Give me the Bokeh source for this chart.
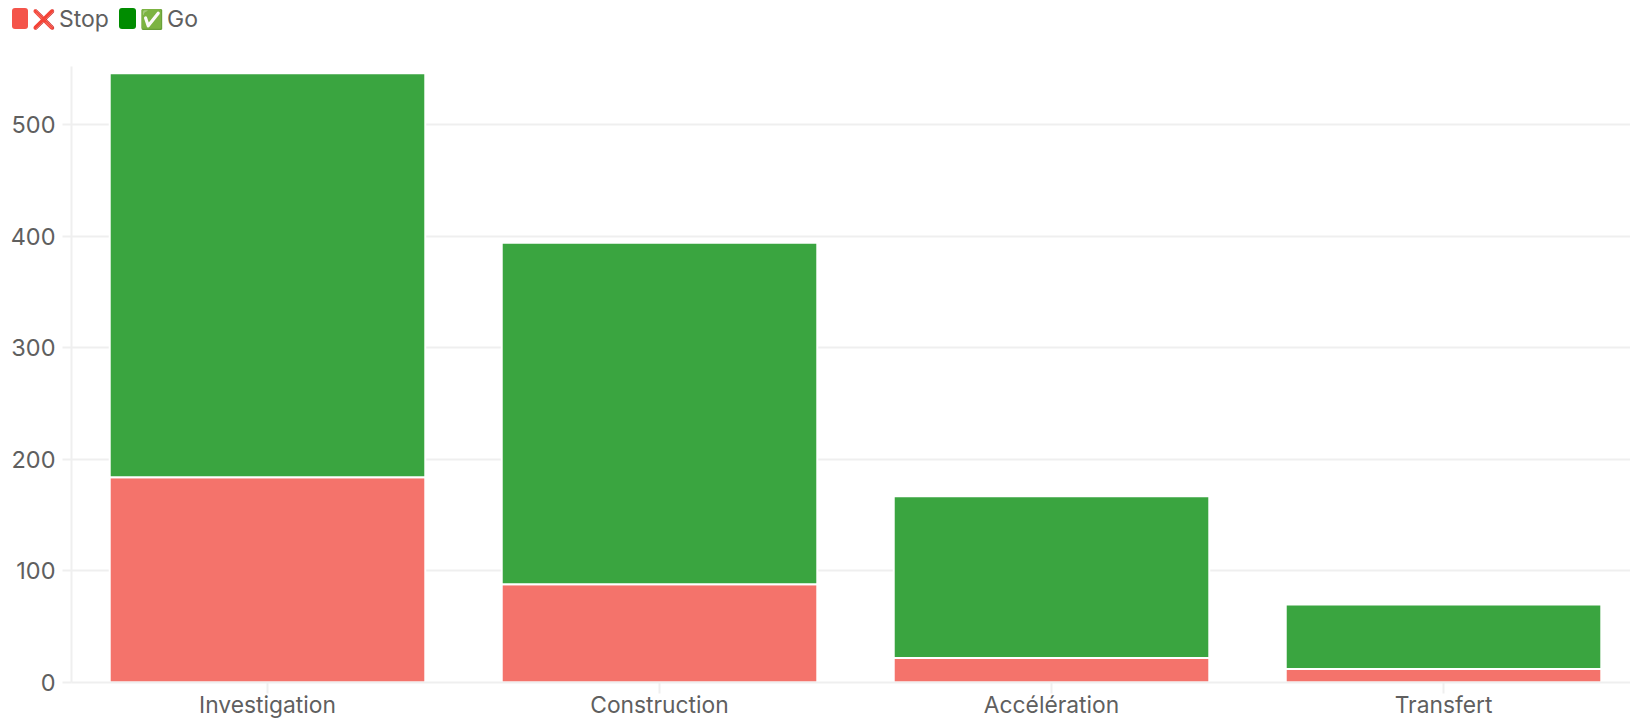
from bokeh.plotting import figure
from bokeh.layouts import column
from bokeh.models import ColumnDataSource, Range1d, FixedTicker, Div
from bokeh.embed import file_html
from bokeh.resources import INLINE

categories = ["Investigation", "Construction", "Accélération", "Transfert"]
stop_values = [184, 88, 22, 12]
go_values = [362, 306, 145, 58]
y_ticks = [0, 100, 200, 300, 400, 500]
legend_names = ["Stop", "Go"]
legend_icons = ["\u274c", "\u2705"]

FONT = "Inter"
TXT = "#5f5f5f"
RULE = "#efefef"
RED = "#f4736b"
GREEN = "#3aa540"
LEGEND_H = 40

positions = [i + 0.5 for i in range(len(categories))]
source = ColumnDataSource(dict(x=positions, stop=stop_values, go=go_values))

p = figure(width=1630, height=680, output_backend="svg", toolbar_location=None,
           x_range=Range1d(0, 3.977), y_range=Range1d(0, 552),
           min_border_left=71, min_border_right=0, min_border_top=66 - LEGEND_H, min_border_bottom=36)
p.outline_line_color = None
p.background_fill_color = "white"

p.vbar_stack(["stop", "go"], x="x", width=0.805, source=source, color=[RED, GREEN],
             line_color="white", line_width=2)

p.xgrid.visible = False
p.ygrid.grid_line_color = RULE
p.ygrid.grid_line_width = 2
p.ygrid.ticker = FixedTicker(ticks=y_ticks)

p.xaxis.ticker = FixedTicker(ticks=positions)
p.xaxis.major_label_overrides = {pos: c for pos, c in zip(positions, categories)}
p.yaxis.ticker = FixedTicker(ticks=y_ticks)
for ax in (p.xaxis[0], p.yaxis[0]):
    ax.axis_line_color = RULE
    ax.axis_line_width = 2
    ax.major_tick_line_color = RULE
    ax.major_tick_line_width = 2
    ax.major_tick_in = 0
    ax.minor_tick_line_color = None
    ax.major_label_text_font = FONT
    ax.major_label_text_color = TXT
p.xaxis.major_label_text_font_size = "22.8px"
p.yaxis.major_label_text_font_size = "23.5px"
p.xaxis.major_label_text_line_height = 1.0
p.xaxis.major_tick_out = 11
p.yaxis.major_tick_out = 9
p.xaxis.major_label_standoff = -3
p.yaxis.major_label_standoff = 7


def span(x, w, text, style):
    return (f'<span style="position:absolute;left:{x}px;top:9px;width:{w}px;height:21px;'
            f'line-height:21px;text-align:center;white-space:nowrap;{style}">{text}</span>')


legend_html = (
    f'<div style="position:relative;width:1630px;height:{LEGEND_H}px;">'
    + span(12, 16, "", "background:#f4544a;border-radius:3px;top:8px;")
    + span(32, 22, legend_icons[0], "font-size:19px;")
    + span(59, 50, legend_names[0], f"color:{TXT};font:23px {FONT};line-height:21px;text-align:left;")
    + span(119, 17, "", "background:#008c00;border-radius:3px;top:8px;")
    + span(140, 22, legend_icons[1], "font-size:19px;")
    + span(167, 40, legend_names[1], f"color:{TXT};font:23px {FONT};line-height:21px;text-align:left;")
    + '</div>'
)
lg = Div(text=legend_html, width=1630, height=LEGEND_H, margin=0)

page = column(lg, p, spacing=0, width=1630, height=718, styles={"overflow": "hidden"})
open("out.html", "w").write(file_html(page, INLINE))
